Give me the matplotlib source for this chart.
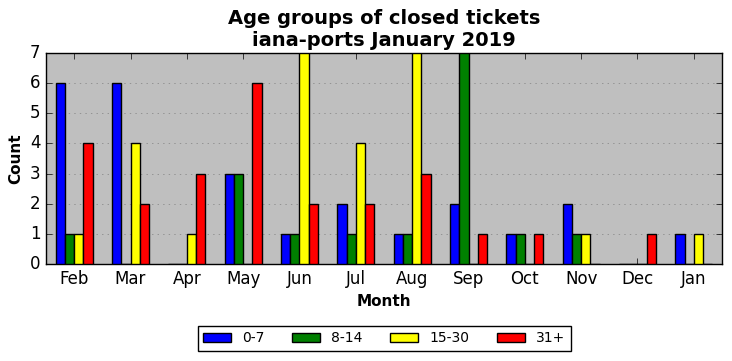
import numpy as np
import matplotlib
matplotlib.use('Agg')
import matplotlib.pyplot as plt

plt.style.use('classic')

months = ['Feb', 'Mar', 'Apr', 'May', 'Jun', 'Jul', 'Aug', 'Sep', 'Oct', 'Nov', 'Dec', 'Jan']
age_0_7 = [6, 6, 0, 3, 1, 2, 1, 2, 1, 2, 0, 1]
age_8_14 = [1, 0, 0, 3, 1, 1, 1, 7, 1, 1, 0, 0]
age_15_30 = [1, 4, 1, 0, 7, 4, 7, 0, 0, 1, 0, 1]
age_31_plus = [4, 2, 3, 6, 2, 2, 3, 1, 1, 0, 1, 0]

series = [('0-7', age_0_7, 'blue'),
          ('8-14', age_8_14, 'green'),
          ('15-30', age_15_30, 'yellow'),
          ('31+', age_31_plus, 'red')]

fig = plt.figure(figsize=(7.32, 3.61), dpi=100, facecolor='white')
ax = fig.add_axes([46 / 732, 1 - 264 / 361, 676 / 732, 211 / 361])
ax.set_facecolor('#bfbfbf')

x = np.arange(len(months))
width = 0.165
for i, (name, vals, col) in enumerate(series):
    ax.bar(x + (i - 1.5) * width, vals, width, color=col, edgecolor='black',
           linewidth=1, label=name, zorder=3)

ax.set_xlim(-0.5, len(months) - 0.5)
ax.set_ylim(0, 7)
ax.set_xticks(x)
ax.set_xticklabels(months, fontsize=12)
ax.tick_params(axis='y', labelsize=12)
ax.yaxis.grid(True, linestyle=':', color='#808080', zorder=0)
ax.set_axisbelow(True)

ax.set_title('Age groups of closed tickets\niana-ports January 2019',
             fontsize=14, fontweight='bold')
ax.set_xlabel('Month', fontsize=11, fontweight='bold')
ax.set_ylabel('Count', fontsize=11, fontweight='bold')

ax.legend(loc='upper center', bbox_to_anchor=(0.5, -0.26), ncol=4,
          fontsize=10, frameon=True, fancybox=False, handlelength=2)

fig.savefig('out.png', dpi=100, facecolor='white')
